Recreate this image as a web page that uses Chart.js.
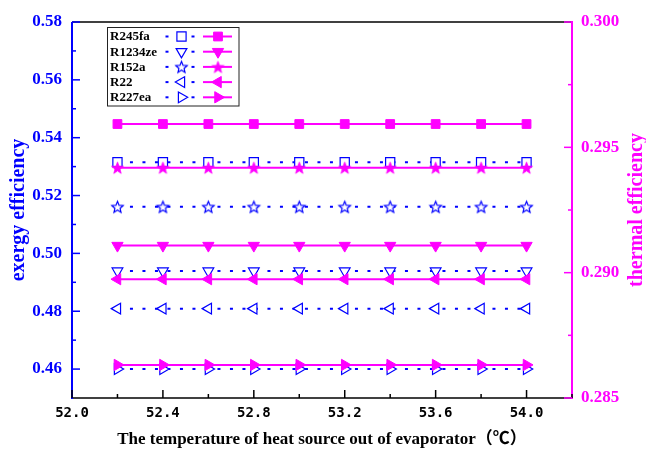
<!DOCTYPE html>
<html>
<head>
<meta charset="utf-8">
<script src="https://cdn.jsdelivr.net/npm/chart.js@4/dist/chart.umd.min.js"></script>
<style>
  html, body { margin: 0; padding: 0; background: #ffffff; }
  #wrap { width: 646px; height: 450px; }
</style>
</head>
<body>
<div id="wrap"><canvas id="c" width="646" height="450"></canvas></div>
<script>
// ---------------- data ----------------
const xValues = [52.2, 52.4, 52.6, 52.8, 53.0, 53.2, 53.4, 53.6, 53.8, 54.0];
const refrigerants = ['R245fa', 'R1234ze', 'R152a', 'R22', 'R227ea'];

// exergy efficiency (left axis)
const exR245fa  = [0.5315, 0.5315, 0.5315, 0.5315, 0.5315, 0.5315, 0.5315, 0.5315, 0.5315, 0.5315];
const exR1234ze = [0.4939, 0.4939, 0.4939, 0.4939, 0.4939, 0.4939, 0.4939, 0.4939, 0.4939, 0.4939];
const exR152a   = [0.5161, 0.5161, 0.5161, 0.5161, 0.5161, 0.5161, 0.5161, 0.5161, 0.5161, 0.5161];
const exR22     = [0.4809, 0.4809, 0.4809, 0.4809, 0.4809, 0.4809, 0.4809, 0.4809, 0.4809, 0.4809];
const exR227ea  = [0.4600, 0.4600, 0.4600, 0.4600, 0.4600, 0.4600, 0.4600, 0.4600, 0.4600, 0.4600];

// thermal efficiency (right axis)
const thR245fa  = [0.29593, 0.29593, 0.29593, 0.29593, 0.29593, 0.29593, 0.29593, 0.29593, 0.29593, 0.29593];
const thR1234ze = [0.29108, 0.29108, 0.29108, 0.29108, 0.29108, 0.29108, 0.29108, 0.29108, 0.29108, 0.29108];
const thR152a   = [0.29419, 0.29419, 0.29419, 0.29419, 0.29419, 0.29419, 0.29419, 0.29419, 0.29419, 0.29419];
const thR22     = [0.28974, 0.28974, 0.28974, 0.28974, 0.28974, 0.28974, 0.28974, 0.28974, 0.28974, 0.28974];
const thR227ea  = [0.28632, 0.28632, 0.28632, 0.28632, 0.28632, 0.28632, 0.28632, 0.28632, 0.28632, 0.28632];

// ticks
const xTicks = [52.0, 52.4, 52.8, 53.2, 53.6, 54.0];
const xMinorTicks = [52.2, 52.6, 53.0, 53.4, 53.8, 54.2];
const leftTicks = [0.46, 0.48, 0.50, 0.52, 0.54, 0.56, 0.58];
const leftMinorTicks = [0.47, 0.49, 0.51, 0.53, 0.55, 0.57];
const rightTicks = [0.285, 0.290, 0.295, 0.300];
const rightMinorTicks = [0.2875, 0.2925, 0.2975];

const xTitle = 'The temperature of heat source out of evaporator（℃）';
const leftTitle = 'exergy efficiency';
const rightTitle = 'thermal efficiency';

// ---------------- styles ----------------
const BLUE = '#0000FF';
const MAG = '#FF00FF';
const SERIF = '"Liberation Serif", "Times New Roman", "Noto Sans CJK SC", serif';

function makeStar(R, r, fill, stroke, lw) {
  const size = Math.ceil(2 * R + lw + 3);
  const c = document.createElement('canvas');
  c.width = size; c.height = size;
  const g = c.getContext('2d');
  g.translate(size / 2, size / 2 + R * 0.1);
  g.beginPath();
  for (let i = 0; i < 10; i++) {
    const rad = (i % 2) ? r : R;
    const ang = -Math.PI / 2 + i * Math.PI / 5;
    g.lineTo(rad * Math.cos(ang), rad * Math.sin(ang));
  }
  g.closePath();
  if (fill) { g.fillStyle = fill; g.fill(); }
  if (stroke) { g.strokeStyle = stroke; g.lineWidth = lw; g.stroke(); }
  return c;
}
const starFilled = makeStar(6.3, 2.6, MAG, MAG, 0.8);
const starOpen = makeStar(6.0, 2.7, '#ffffff', BLUE, 1.2);

const shapes = [
  { style: 'rect', rot: 0 },
  { style: 'triangle', rot: 180 },
  { style: null, rot: 0 },
  { style: 'triangle', rot: 270 },
  { style: 'triangle', rot: 90 }
];
const exSeries = [exR245fa, exR1234ze, exR152a, exR22, exR227ea];
const thSeries = [thR245fa, thR1234ze, thR152a, thR22, thR227ea];

const datasets = [];
refrigerants.forEach((name, i) => {
  const sh = shapes[i];
  datasets.push({
    label: name + ' exergy',
    data: xValues.map((x, k) => ({ x: x, y: exSeries[i][k] })),
    yAxisID: 'y',
    order: 2,
    borderColor: BLUE,
    borderWidth: 2,
    borderDash: [3, 9.5],
    pointStyle: sh.style || starOpen,
    rotation: sh.rot,
    pointRadius: sh.style === 'rect' ? 6.5 : 6.2,
    pointBorderWidth: 1.2,
    pointBorderColor: BLUE,
    pointBackgroundColor: '#ffffff',
    fill: false,
    tension: 0
  });
});
refrigerants.forEach((name, i) => {
  const sh = shapes[i];
  datasets.push({
    label: name + ' thermal',
    data: xValues.map((x, k) => ({ x: x, y: thSeries[i][k] })),
    yAxisID: 'y1',
    order: 1,
    borderColor: MAG,
    borderWidth: 2,
    pointStyle: sh.style || starFilled,
    rotation: sh.rot,
    pointRadius: sh.style === 'rect' ? 6.2 : 6.5,
    pointBorderWidth: 1,
    pointBorderColor: MAG,
    pointBackgroundColor: MAG,
    fill: false,
    tension: 0
  });
});

function fixedTicks(arr) {
  return (scale) => { scale.ticks = arr.map(v => ({ value: v })); };
}

// ---------------- decoration plugin (axes, ticks, legend, right title) ----------------
const deco = {
  id: 'deco',
  afterDraw(chart) {
    const { ctx, chartArea: a, scales } = chart;
    const sx = scales.x, sl = scales.y, sr = scales.y1;
    ctx.save();
    ctx.setLineDash([]);

    // frame lines
    ctx.lineWidth = 1.5;
    ctx.strokeStyle = '#000000';
    ctx.beginPath(); ctx.moveTo(a.left, a.top); ctx.lineTo(a.right, a.top); ctx.stroke();
    ctx.beginPath(); ctx.moveTo(a.left, a.bottom); ctx.lineTo(a.right, a.bottom); ctx.stroke();
    ctx.lineWidth = 2;
    ctx.strokeStyle = BLUE;
    ctx.beginPath(); ctx.moveTo(a.left, a.top); ctx.lineTo(a.left, a.bottom + 1); ctx.stroke();
    ctx.strokeStyle = MAG;
    ctx.beginPath(); ctx.moveTo(a.right, a.top - 1); ctx.lineTo(a.right, a.bottom + 1); ctx.stroke();

    // ticks (inward)
    ctx.lineWidth = 1.5;
    ctx.strokeStyle = '#000000';
    const xt = (vals, len) => vals.forEach(v => {
      const p = sx.getPixelForValue(v);
      ctx.beginPath(); ctx.moveTo(p, a.bottom); ctx.lineTo(p, a.bottom - len); ctx.stroke();
    });
    xt(xTicks, 8); xt(xMinorTicks, 4);
    ctx.strokeStyle = BLUE;
    const lt = (vals, len) => vals.forEach(v => {
      const p = sl.getPixelForValue(v);
      ctx.beginPath(); ctx.moveTo(a.left, p); ctx.lineTo(a.left + len, p); ctx.stroke();
    });
    lt(leftTicks, 8); lt(leftMinorTicks, 4);
    ctx.strokeStyle = MAG;
    const rt = (vals, len) => vals.forEach(v => {
      const p = sr.getPixelForValue(v);
      ctx.beginPath(); ctx.moveTo(a.right, p); ctx.lineTo(a.right - len, p); ctx.stroke();
    });
    rt(rightTicks, 8); rt(rightMinorTicks, 4);

    // right title (reads bottom to top)
    ctx.save();
    ctx.translate(637, (a.top + a.bottom) / 2);
    ctx.rotate(-Math.PI / 2);
    ctx.fillStyle = MAG;
    ctx.font = 'bold 20px ' + SERIF;
    ctx.textAlign = 'center';
    ctx.textBaseline = 'middle';
    ctx.fillText(rightTitle, 0, 0);
    ctx.restore();

    // legend
    const bx = 107.5, by = 27.5, bw = 131.5, bh = 78.5;
    ctx.fillStyle = '#ffffff';
    ctx.fillRect(bx, by, bw, bh);
    ctx.lineWidth = 1;
    ctx.strokeStyle = '#222222';
    ctx.strokeRect(bx, by, bw, bh);
    const drawPoint = Chart.helpers && Chart.helpers.drawPoint;
    refrigerants.forEach((name, i) => {
      const y = 36.5 + i * 15.2;
      ctx.fillStyle = '#000000';
      ctx.font = 'bold 13px ' + SERIF;
      ctx.textAlign = 'left';
      ctx.textBaseline = 'middle';
      ctx.fillText(name, 110, y + 0.5);
      const dB = datasets[i], dM = datasets[i + 5];
      // blue dotted sample
      ctx.strokeStyle = BLUE; ctx.lineWidth = 2;
      ctx.beginPath(); ctx.moveTo(165.5, y); ctx.lineTo(168.5, y); ctx.stroke();
      ctx.beginPath(); ctx.moveTo(191.5, y); ctx.lineTo(194.5, y); ctx.stroke();
      ctx.lineWidth = dB.pointBorderWidth;
      ctx.fillStyle = dB.pointBackgroundColor; ctx.strokeStyle = dB.pointBorderColor;
      if (drawPoint) drawPoint(ctx, { pointStyle: dB.pointStyle, rotation: dB.rotation, radius: dB.pointRadius, borderWidth: dB.pointBorderWidth }, 181.5, y);
      // magenta sample
      ctx.strokeStyle = MAG; ctx.lineWidth = 2;
      ctx.beginPath(); ctx.moveTo(203, y); ctx.lineTo(232, y); ctx.stroke();
      ctx.lineWidth = dM.pointBorderWidth;
      ctx.fillStyle = dM.pointBackgroundColor; ctx.strokeStyle = dM.pointBorderColor;
      if (drawPoint) drawPoint(ctx, { pointStyle: dM.pointStyle, rotation: dM.rotation, radius: dM.pointRadius, borderWidth: dM.pointBorderWidth }, 218, y);
    });
    ctx.restore();
  }
};

new Chart(document.getElementById('c'), {
  type: 'line',
  data: { datasets: datasets },
  plugins: [deco],
  options: {
    responsive: false,
    animation: false,
    events: [],
    layout: { padding: { top: 22, left: 0, right: 0, bottom: 0 } },
    plugins: { legend: { display: false }, tooltip: { enabled: false }, title: { display: false } },
    scales: {
      x: {
        type: 'linear',
        min: 52.0,
        max: 54.2,
        afterBuildTicks: fixedTicks(xTicks),
        afterFit: (s) => { s.height = 52; },
        grid: { display: false, drawTicks: false },
        border: { display: false },
        ticks: {
          padding: 7,
          color: '#000000',
          font: { family: '"DejaVu Sans Mono", monospace', size: 14, weight: 'bold' },
          callback: (v) => Number(v).toFixed(1)
        },
        title: {
          display: true,
          text: xTitle,
          color: '#000000',
          font: { family: SERIF, size: 17, weight: 'bold' },
          padding: { top: 0, bottom: 0 }
        }
      },
      y: {
        type: 'linear',
        position: 'left',
        min: 0.45,
        max: 0.58,
        afterBuildTicks: fixedTicks(leftTicks),
        afterFit: (s) => { s.width = 72; },
        grid: { display: false, drawTicks: false },
        border: { display: false },
        ticks: {
          padding: 10,
          color: BLUE,
          font: { family: SERIF, size: 17, weight: 'bold' },
          callback: (v) => Number(v).toFixed(2)
        },
        title: {
          display: true,
          text: leftTitle,
          color: BLUE,
          font: { family: SERIF, size: 20, weight: 'bold' },
          padding: { top: 7, bottom: 0 }
        }
      },
      y1: {
        type: 'linear',
        position: 'right',
        min: 0.285,
        max: 0.300,
        afterBuildTicks: fixedTicks(rightTicks),
        afterFit: (s) => { s.width = 74; },
        grid: { display: false, drawTicks: false },
        border: { display: false },
        ticks: {
          padding: 9,
          color: MAG,
          font: { family: SERIF, size: 17, weight: 'bold' },
          callback: (v) => Number(v).toFixed(3)
        },
        title: { display: false }
      }
    }
  }
});
</script>
</body>
</html>
